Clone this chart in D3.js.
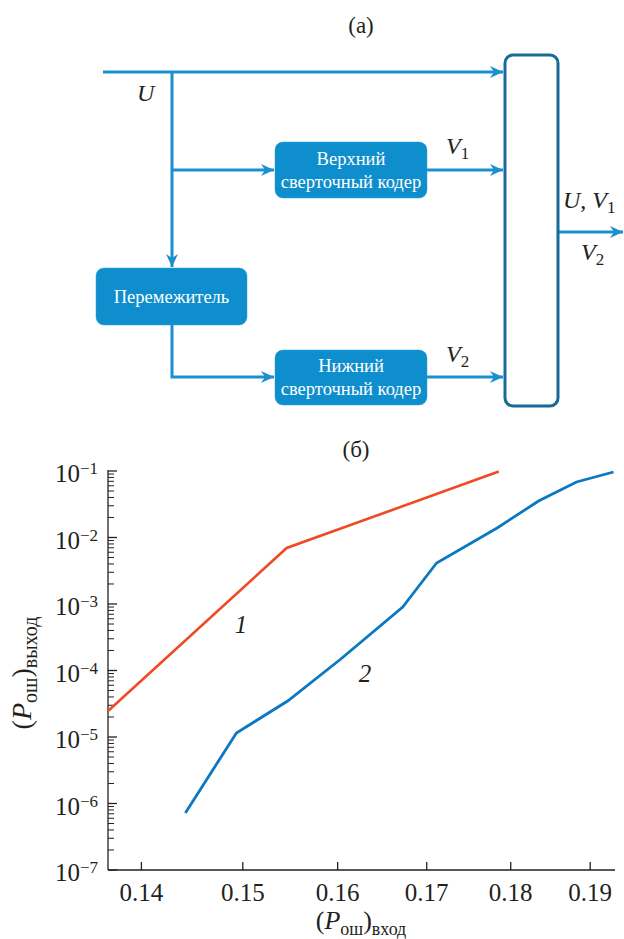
<!DOCTYPE html>
<html><head><meta charset="utf-8">
<script src="https://cdn.jsdelivr.net/npm/d3@7"></script>
<style>body{margin:0;background:#fff}svg{display:block}text{font-family:"Liberation Serif","Times New Roman",serif;fill:#231f20}</style>
</head><body>
<script>
// ---- data ----
const curve1X = [0.1369, 0.1546, 0.1786];
const curve1Y = [2.46e-5, 6.95e-3, 0.098];
const curve2X = [0.1443, 0.1494, 0.1547, 0.1604, 0.1673, 0.1712, 0.1784, 0.1835, 0.1883, 0.1931];
const curve2Y = [7.2e-7, 1.15e-5, 3.48e-5, 1.49e-4, 9.0e-4, 4.14e-3, 1.39e-2, 3.54e-2, 6.83e-2, 0.0966];
const xTicks = [0.14, 0.15, 0.16, 0.17, 0.18, 0.19];
const xTickLabels = ["0.14", "0.15", "0.16", "0.17", "0.18", "0.19"];
const yTicks = [1e-7, 1e-6, 1e-5, 1e-4, 1e-3, 1e-2, 1e-1];
const yTickExp = ["−7", "−6", "−5", "−4", "−3", "−2", "−1"];
const curveLabels = ["1", "2"];

const W = 624, H = 939;
const svg = d3.select("body").append("svg").attr("width", W).attr("height", H);
const blue = "#1b8fd0", boxFill = "#0e8ecd", boxStroke = "#176b99";

// ---- diagram (a) ----
const defs = svg.append("defs");
defs.append("marker").attr("id", "arr").attr("markerUnits", "userSpaceOnUse")
  .attr("markerWidth", 14).attr("markerHeight", 14).attr("refX", 13).attr("refY", 7)
  .attr("orient", "auto")
  .append("path").attr("d", "M0,1 L13,7 L0,13 L4,7 Z").attr("fill", blue);

svg.append("text").attr("x", 361).attr("y", 33).attr("text-anchor", "middle").attr("font-size", 23).text("(а)");

const g = svg.append("g").attr("fill", "none").attr("stroke", blue).attr("stroke-width", 3);
function ln(pts, arrow) {
  const p = g.append("path").attr("d", d3.line()(pts));
  if (arrow) p.attr("marker-end", "url(#arr)");
}
ln([[103, 72], [503, 72]], true);
ln([[172, 72], [172, 267]], true);
ln([[172, 170], [274, 170]], true);
ln([[427, 170], [503, 170]], true);
ln([[172, 325], [172, 377], [274, 377]], true);
ln([[427, 377], [503, 377]], true);
ln([[559, 232], [623, 232]], true);

function box(x0, y0, x1, y1, lines) {
  svg.append("rect").attr("x", x0).attr("y", y0).attr("width", x1 - x0).attr("height", y1 - y0)
    .attr("rx", 8).attr("fill", boxFill).attr("stroke", "#2aa0dc").attr("stroke-width", 0.5);
  const n = lines.length, cy = (y0 + y1) / 2;
  lines.forEach((t, i) => {
    svg.append("text").attr("x", (x0 + x1) / 2).attr("y", cy + 6 + (i - (n - 1) / 2) * 23)
      .attr("text-anchor", "middle").attr("font-size", 18.5).style("fill", "#fff").text(t);
  });
}
box(275, 142, 427, 198, ["Верхний", "сверточный кодер"]);
box(96, 268, 247, 325, ["Перемежитель"]);
box(275, 350, 427, 405, ["Нижний", "сверточный кодер"]);
svg.append("rect").attr("x", 505).attr("y", 55).attr("width", 53).attr("height", 351).attr("rx", 8)
  .attr("fill", "#fff").attr("stroke", boxStroke).attr("stroke-width", 3);

function varLabel(x, y, parts) {
  const t = svg.append("text").attr("x", x).attr("y", y).attr("font-size", 24);
  parts.forEach(p => {
    const s = t.append("tspan").text(p.t);
    if (p.i) s.attr("font-style", "italic");
    if (p.sub) s.attr("font-size", 17).attr("dy", 5);
  });
  return t;
}
varLabel(137, 101, [{t: "U", i: 1}]);
varLabel(446, 154, [{t: "V", i: 1}, {t: "1", sub: 1}]);
varLabel(446, 362, [{t: "V", i: 1}, {t: "2", sub: 1}]);
varLabel(563, 208, [{t: "U", i: 1}, {t: ", "}, {t: "V", i: 1}, {t: "1", sub: 1}]);
varLabel(581, 260, [{t: "V", i: 1}, {t: "2", sub: 1}]);

// ---- chart (б) ----
svg.append("text").attr("x", 356).attr("y", 457).attr("text-anchor", "middle").attr("font-size", 23).text("(б)");

const x = d3.scaleLog().domain([0.1369, 0.1933]).range([108, 615]);
const y = d3.scaleLog().domain([1e-7, 1e-1]).range([870, 471]);

svg.append("clipPath").attr("id", "clip").append("rect").attr("x", 108).attr("y", 460).attr("width", 520).attr("height", 410);

const xAxis = d3.axisBottom(x).tickValues(xTicks).tickSize(-8).tickFormat((d, i) => xTickLabels[i]);
const gx = svg.append("g").attr("transform", "translate(0,870)").call(xAxis);
gx.select(".domain").attr("d", "M108,0H615").attr("stroke", "#231f20").attr("stroke-width", 1.3);
gx.selectAll(".tick line").attr("stroke", "#231f20").attr("stroke-width", 1.3);
gx.selectAll(".tick text").attr("font-size", 25).attr("font-family", "Liberation Serif")
  .style("fill", "#231f20").attr("y", 31).attr("dy", 0);

// y axis with minor ticks
const minor = [];
for (let e = -7; e < -1; e++) for (let m = 2; m <= 9; m++) minor.push(m * Math.pow(10, e));
const gy = svg.append("g");
gy.append("line").attr("x1", 108).attr("x2", 108).attr("y1", 870).attr("y2", 470).attr("stroke", "#231f20").attr("stroke-width", 1.3);
gy.selectAll(".mj").data(yTicks).enter().append("line")
  .attr("x1", 108).attr("x2", 117).attr("y1", d => y(d)).attr("y2", d => y(d)).attr("stroke", "#231f20").attr("stroke-width", 1.3);
gy.selectAll(".mn").data(minor).enter().append("line")
  .attr("x1", 108).attr("x2", 114).attr("y1", d => y(d)).attr("y2", d => y(d)).attr("stroke", "#231f20").attr("stroke-width", 1);
yTicks.forEach((d, i) => {
  const t = svg.append("text").attr("x", 98).attr("y", y(d) + 11).attr("text-anchor", "end").attr("font-size", 25);
  t.append("tspan").text("10");
  t.append("tspan").attr("font-size", 17).attr("dy", -8).text(yTickExp[i]);
});

const line = d3.line().x(d => x(d[0])).y(d => y(d[1]));
svg.append("path").datum(curve1X.map((v, i) => [v, curve1Y[i]])).attr("d", line)
  .attr("fill", "none").attr("stroke", "#ef4a24").attr("stroke-width", 2.6).attr("clip-path", "url(#clip)");
svg.append("path").datum(curve2X.map((v, i) => [v, curve2Y[i]])).attr("d", line)
  .attr("fill", "none").attr("stroke", "#0b78c1").attr("stroke-width", 2.8).attr("clip-path", "url(#clip)");

svg.append("text").attr("x", 241).attr("y", 633).attr("text-anchor", "middle").attr("font-size", 25).attr("font-style", "italic").text(curveLabels[0]);
svg.append("text").attr("x", 365).attr("y", 682).attr("text-anchor", "middle").attr("font-size", 25).attr("font-style", "italic").text(curveLabels[1]);

function axTitle(t, sub2, fs) {
  t.append("tspan").text("(");
  t.append("tspan").attr("font-style", "italic").text("P");
  t.append("tspan").attr("font-size", fs).attr("dy", 6).text("ош");
  t.append("tspan").attr("dy", -6).text(")");
  t.append("tspan").attr("font-size", fs).attr("dy", 6).text(sub2);
}
axTitle(svg.append("text").attr("x", 361).attr("y", 929).attr("text-anchor", "middle").attr("font-size", 26), "вход", 18);
axTitle(svg.append("text").attr("transform", "translate(31,673) rotate(-90)").attr("text-anchor", "middle").attr("font-size", 28), "выход", 20);
</script>
</body></html>
